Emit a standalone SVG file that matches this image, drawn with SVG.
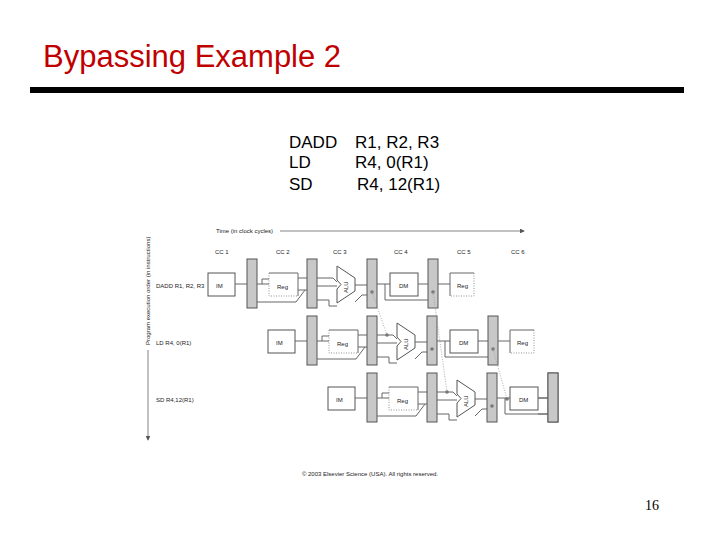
<svg xmlns="http://www.w3.org/2000/svg" xmlns:xlink="http://www.w3.org/1999/xlink" width="720" height="540" viewBox="0 0 720 540">
<style>
.t{font-family:"Liberation Sans",Arial,sans-serif;fill:#000}
.s{font-family:"Liberation Sans",Arial,sans-serif;font-size:6px;fill:#222}
.box{fill:#fff;stroke:#555;stroke-width:1}
.bar{fill:#c8c8c8;stroke:#555;stroke-width:1}
.w{fill:none;stroke:#666;stroke-width:1}
.dt{fill:none;stroke:#777;stroke-width:0.8;stroke-dasharray:1,1.5}
.fw{fill:none;stroke:#999;stroke-width:0.8;stroke-dasharray:1,1.5}
</style>
<defs>
<marker id="ah" markerWidth="6" markerHeight="6" refX="5" refY="3" orient="auto"><path d="M0,0L6,3L0,6z" fill="#555"/></marker>
<g id="row">
<rect class="box" x="208" y="273" width="27" height="23"/><text class="s" x="216" y="288">IM</text>
<line class="w" x1="235" y1="284" x2="247" y2="284"/>
<rect class="bar" x="247" y="259" width="10" height="49"/>
<path class="w" d="M257,284H262V279H269M262,284H269"/>
<path class="w" d="M257,302H296L305,290"/>
<path class="w" d="M269,273H298V296"/>
<path class="dt" d="M269,273V296H298"/>
<text class="s" x="277" y="289">Reg</text>
<path class="w" d="M298,278H307M298,290H307"/>
<rect class="bar" x="307" y="259" width="10" height="49"/>
<path class="w" d="M317,278H333L337,282M317,286H337M317,300H329V306H337"/>
<path class="box" d="M337,266L355,278V291L337,303V289L341,284.5L337,280Z"/>
<text class="s" transform="translate(348,293) rotate(-90)">ALU</text>
<path class="w" d="M355,285H367M355,302L362,295H367"/>
<rect class="bar" x="367" y="259" width="10" height="49"/>
<circle cx="372" cy="292" r="1.8" fill="#777"/>
<path class="w" d="M377,284H390M385,284V300H418"/>
<rect class="box" x="390" y="273" width="28" height="23"/><text class="s" x="399" y="288">DM</text>
<path class="w" d="M418,284H428M418,300H428"/>
<rect class="bar" x="428" y="259" width="10" height="49"/>
<circle cx="433" cy="292" r="1.8" fill="#777"/>
</g>
<g id="wb">
<path class="w" d="M438,284H450"/>
<path class="w" d="M450,296V273H474"/>
<path class="dt" d="M474,273V296H450"/>
<text class="s" x="457" y="288">Reg</text>
</g>
</defs>
<text x="43" y="67" font-family="Liberation Sans,Arial,sans-serif" font-size="31" fill="#c00000">Bypassing Example 2</text>
<rect x="30" y="87" width="654" height="6" fill="#000"/>
<g class="t" font-size="17">
<text x="289" y="148">DADD<tspan x="355">R1, R2, R3</tspan></text>
<text x="289" y="168">LD<tspan x="355">R4, 0(R1)</tspan></text>
<text x="289" y="190">SD<tspan x="357">R4, 12(R1)</tspan></text>
</g>
<text x="645" y="510" font-family="Liberation Serif,serif" font-size="14">16</text>
<g id="axes">
<text class="s" x="216" y="233">Time (in clock cycles)</text>
<line x1="280" y1="231" x2="524" y2="231" stroke="#666" stroke-width="0.8" marker-end="url(#ah)"/>
<text class="s" transform="translate(150,345) rotate(-90)">Program execution order (in instructions)</text>
<line x1="148" y1="350" x2="148" y2="440" stroke="#666" stroke-width="0.8" marker-end="url(#ah)"/>
<text class="s" x="215" y="254">CC 1</text><text class="s" x="276" y="254">CC 2</text><text class="s" x="333" y="254">CC 3</text>
<text class="s" x="394" y="254">CC 4</text><text class="s" x="457" y="254">CC 5</text><text class="s" x="511" y="254">CC 6</text>
</g>
<g id="dadd"><text class="s" x="156" y="288">DADD R1, R2, R3</text><use xlink:href="#row"/><use xlink:href="#wb"/></g>
<g id="ld"><text class="s" x="156" y="345">LD R4, 0(R1)</text><use xlink:href="#row" transform="translate(60,57)"/><use xlink:href="#wb" transform="translate(60,57)"/></g>
<g id="sd"><text class="s" x="156" y="402">SD R4,12(R1)</text><use xlink:href="#row" transform="translate(120,114)"/><rect class="bar" x="548" y="373" width="10" height="49"/><path class="w" d="M538,398H548M538,414H548"/></g>
<g id="connectors">
<path class="fw" d="M372,292L387,335"/><circle cx="387" cy="335" r="1.8" fill="#777"/>
<path class="fw" d="M433,292L447,392"/><circle cx="447" cy="392" r="1.8" fill="#777"/>
<path class="fw" d="M493,349L507,399"/><circle cx="507" cy="399" r="1.8" fill="#777"/>
</g>
<text class="s" x="370" y="476" text-anchor="middle">© 2003 Elsevier Science (USA). All rights reserved.</text>
</svg>
